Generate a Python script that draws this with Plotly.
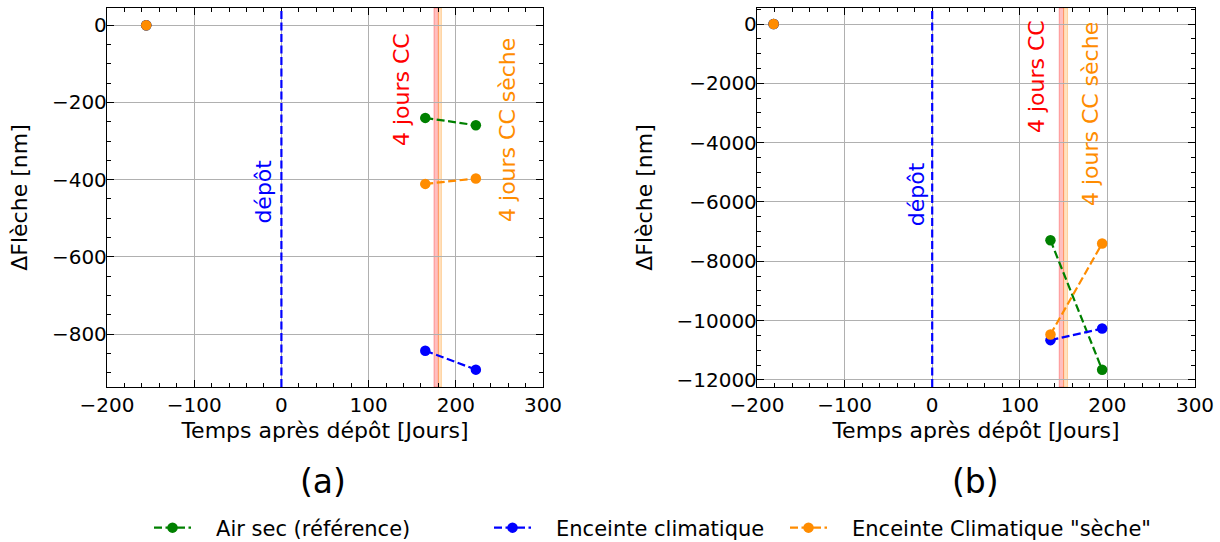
import plotly.graph_objects as go

# ---------------- data ----------------
series_names = ["Air sec (référence)", "Enceinte climatique", 'Enceinte Climatique "sèche"']
series_colors = ["green", "blue", "darkorange"]

# panel (a)
a_x = [[-155, None, 165, 223], [-155, None, 165, 223], [-155, None, 165, 223]]
a_y = [[0, None, -240, -259], [0, None, -843, -892], [0, None, -411, -397]]
# panel (b)
b_x = [[-181, None, 135, 194], [-181, None, 135, 194], [-181, None, 135, 194]]
b_y = [[0, None, -7290, -11660], [0, None, -10660, -10270], [0, None, -10470, -7400]]

# vertical markers (time after deposition, days)
depot_x = 0
a_band_cc = [175, 180]
a_band_sec = [180, 183.5]
b_band_cc = [145, 150]
b_band_sec = [150, 154.5]

# annotation anchor points (data coordinates)
a_labels = [("dépôt", -20, -431, "blue"), ("4 jours CC", 138, -166, "red"),
            ("4 jours CC sèche", 260, -271, "darkorange")]
b_labels = [("dépôt", -17, -5730, "blue"), ("4 jours CC", 119, -1775, "red"),
            ("4 jours CC sèche", 180, -3042, "darkorange")]

x_range = [-200, 300]
a_y_range = [-937, 44.6]
b_y_range = [-12240, 540]
a_y_ticks = [0, -200, -400, -600, -800]
b_y_ticks = [0, -2000, -4000, -6000, -8000, -10000, -12000]
x_ticks = [-200, -100, 0, 100, 200, 300]

W, H = 1220, 542
FONT = "DejaVu Sans"
PAD = "\u00a0\u00a0\u00a0"

fig = go.Figure()

dash = "8px,3.5px"
for i in range(3):
    fig.add_trace(go.Scatter(x=a_x[i], y=a_y[i], mode="lines+markers", name=PAD + series_names[i],
                             line=dict(color=series_colors[i], width=2.2, dash=dash),
                             marker=dict(color=series_colors[i], size=10.5),
                             xaxis="x", yaxis="y", legend=["legend", "legend2", "legend3"][i],
                             connectgaps=False))
for i in range(3):
    fig.add_trace(go.Scatter(x=b_x[i], y=b_y[i], mode="lines+markers", name=series_names[i],
                             line=dict(color=series_colors[i], width=2.2, dash=dash),
                             marker=dict(color=series_colors[i], size=10.5),
                             xaxis="x2", yaxis="y2", showlegend=False, connectgaps=False))

# vertical lines / bands
for xr, yr, bands in [("x", "y", (a_band_cc, a_band_sec)), ("x2", "y2", (b_band_cc, b_band_sec))]:
    fig.add_shape(type="rect", xref=xr, yref=yr + " domain", x0=bands[0][0], x1=bands[0][1], y0=0, y1=1,
                  fillcolor="rgba(255,0,0,0.25)", line=dict(color="rgba(255,0,0,0.3)", width=1), layer="below")
    fig.add_shape(type="rect", xref=xr, yref=yr + " domain", x0=bands[1][0], x1=bands[1][1], y0=0, y1=1,
                  fillcolor="rgba(255,140,0,0.25)", line=dict(color="rgba(255,140,0,0.3)", width=1), layer="below")
    fig.add_shape(type="line", xref=xr, yref=yr + " domain", x0=depot_x, x1=depot_x, y0=0, y1=1,
                  line=dict(color="blue", width=2.2, dash=dash), layer="above")

for xr, yr, labs in [("x", "y", a_labels), ("x2", "y2", b_labels)]:
    for txt, lx, ly, col in labs:
        fig.add_annotation(x=lx, y=ly, xref=xr, yref=yr, text=txt, showarrow=False, textangle=-90,
                           font=dict(family=FONT, size=22, color=col), xanchor="center", yanchor="middle")

fig.add_annotation(x=323 / W, y=1 - 481 / H, xref="paper", yref="paper", text="(a)", showarrow=False,
                   xanchor="center", yanchor="middle",
                   font=dict(family=FONT, size=33, color="black"))
fig.add_annotation(x=975 / W, y=1 - 481 / H, xref="paper", yref="paper", text="(b)", showarrow=False,
                   xanchor="center", yanchor="middle",
                   font=dict(family=FONT, size=33, color="black"))

axis_common = dict(showline=True, linecolor="black", linewidth=1.3, mirror="allticks",
                   ticks="inside", ticklen=7, tickwidth=1.2, tickcolor="black",
                   showgrid=True, gridcolor="#b0b0b0", gridwidth=1, zeroline=False,
                   tickformat="d", automargin=False,
                   tickfont=dict(family=FONT, size=20, color="black"))
title_font = dict(family=FONT, size=22, color="black")

fig.update_layout(
    width=W, height=H, margin=dict(l=0, r=0, t=0, b=0, autoexpand=False),
    plot_bgcolor="white", paper_bgcolor="white",
    font=dict(family=FONT),
    xaxis=dict(domain=[107 / W, 543 / W], range=x_range, tickvals=x_ticks, anchor="y",
               minor=dict(dtick=20, ticks="inside", ticklen=4, tickcolor="black", showgrid=False),
               title=dict(text="Temps après dépôt [Jours]", font=title_font, standoff=6),
               **axis_common),
    yaxis=dict(domain=[1 - 387 / H, 1 - 8 / H], range=a_y_range, tickvals=a_y_ticks, anchor="x",
               minor=dict(dtick=50, ticks="inside", ticklen=4, tickcolor="black", showgrid=False),
               title=dict(text="ΔFlèche [nm]", font=title_font, standoff=18),
               ticklabelstandoff=-5,
               **axis_common),
    xaxis2=dict(domain=[757 / W, 1195 / W], range=x_range, tickvals=x_ticks, anchor="y2",
                minor=dict(dtick=20, ticks="inside", ticklen=4, tickcolor="black", showgrid=False),
                title=dict(text="Temps après dépôt [Jours]", font=title_font, standoff=6),
                **axis_common),
    yaxis2=dict(domain=[1 - 387 / H, 1 - 8 / H], range=b_y_range, tickvals=b_y_ticks, anchor="x2",
                minor=dict(dtick=500, ticks="inside", ticklen=4, tickcolor="black", showgrid=False),
                title=dict(text="ΔFlèche [nm]", font=title_font, standoff=17),
                ticklabelstandoff=-5,
                **axis_common),
)

leg_common = dict(orientation="h", yanchor="middle", y=1 - 528 / H, xanchor="left",
                  bgcolor="rgba(0,0,0,0)", font=dict(family=FONT, size=21, color="black"),
                  itemwidth=37)
fig.update_layout(
    legend=dict(x=149 / W, **leg_common),
    legend2=dict(x=489 / W, **leg_common),
    legend3=dict(x=785 / W, **leg_common),
)

fig.write_html("out.html", config={"displayModeBar": False},
               post_script="document.body.style.margin='0';document.body.style.overflow='hidden';")
